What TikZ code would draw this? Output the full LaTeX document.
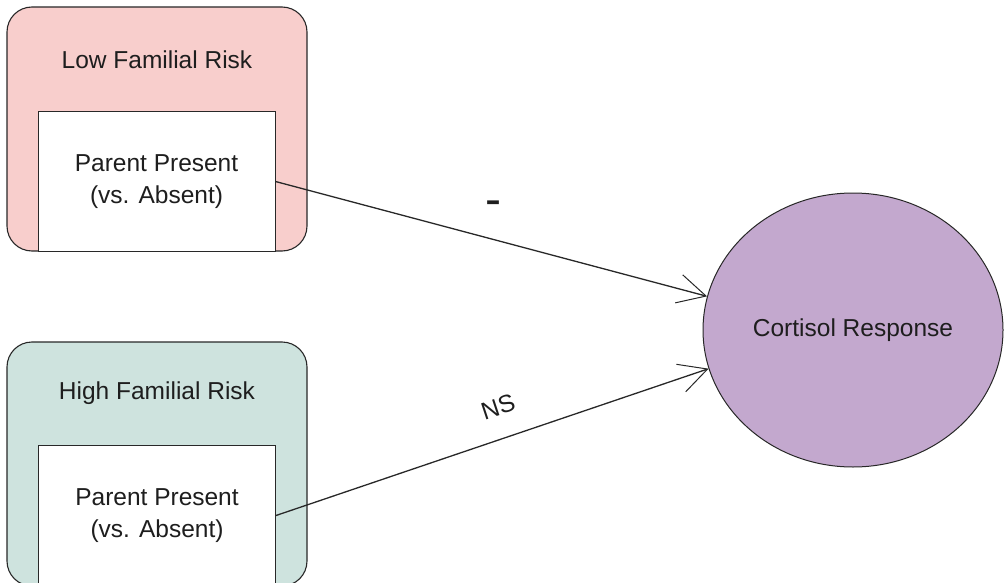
\documentclass[tikz,border=0pt]{standalone}
\usepackage{fontspec}
\setmainfont{Liberation Sans}
\usetikzlibrary{shapes.geometric,arrows.meta}
\definecolor{lowfill}{RGB}{248,206,204}
\definecolor{highfill}{RGB}{206,227,222}
\definecolor{cortfill}{RGB}{195,168,206}
\definecolor{edge}{RGB}{40,40,40}
\definecolor{ink}{RGB}{30,30,30}
\tikzset{
  riskbox/.style={draw=edge, line width=1.1pt, rounded corners=25pt, inner sep=0pt,
    minimum width=300pt, minimum height=244pt},
  riskname/.style={text=ink, font=\fontsize{24.5}{29}\selectfont, inner sep=0pt},
  parentbox/.style={draw=edge, fill=white, line width=1pt, inner sep=0pt,
    minimum width=237pt, align=center, text=ink, font=\fontsize{24.5}{32}\selectfont},
  outcome/.style={ellipse, draw=edge, line width=1pt, fill=cortfill, inner sep=0pt,
    minimum width=300pt, minimum height=274pt, text=ink, font=\fontsize{24.5}{29}\selectfont},
  effect/.style={draw=edge, line width=1.3pt, -{Straight Barb[length=28pt,width=29pt,line width=1pt]}},
  pathlabel/.style={text=ink, inner sep=0pt}
}
\begin{document}
\begin{tikzpicture}[x=1pt,y=-1pt]
  \useasboundingbox (0,0) rectangle (1004,583);
  \clip (0,0) rectangle (1004,583);

  % low familial risk group
  \node[riskbox, fill=lowfill] (low) at (157,129) {};
  \node[riskname] (lowname) at (157,60) {Low Familial Risk};
  \node[parentbox, minimum height=139pt] (lowpar) at (156.5,181.5) {Parent Present\\(vs. Absent)};

  % high familial risk group
  \node[riskbox, fill=highfill] (high) at (157,464) {};
  \node[riskname] (highname) at (157,393) {High Familial Risk};
  \node[parentbox, minimum height=141pt] (highpar) at (157,515.5) {Parent Present\\(vs. Absent)};

  % outcome
  \node[outcome] (cort) at (853,330) {Cortisol Response};

  % paths
  \draw[effect] (lowpar.east) -- (cort.167);
  \draw[effect] (highpar.east) -- (cort.195);

  \node[pathlabel, font=\fontsize{48}{48}\selectfont] (neg) at (493,208) {-};
  \node[pathlabel, font=\fontsize{24.5}{29}\selectfont, rotate=18.4] (ns) at (498,407) {NS};
\end{tikzpicture}
\end{document}
